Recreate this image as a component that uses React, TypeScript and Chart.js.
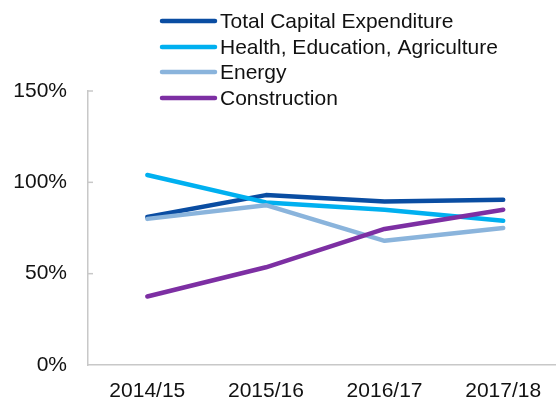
import React, { useEffect, useRef } from "react";
import { Chart, registerables } from "chart.js";

Chart.register(...registerables);

const categories = ["2014/15", "2015/16", "2016/17", "2017/18"];
const seriesNames = [
  "Total Capital Expenditure",
  "Health, Education, Agriculture",
  "Energy",
  "Construction",
];
const totalCapex = [81, 93, 89.5, 90.5];
const healthEduAgri = [104, 89, 85, 79];
const energy = [80, 87.5, 68, 75];
const construction = [37.5, 53.5, 74.5, 85];
const seriesColors = ["#0A4DA2", "#00B0F0", "#8AB4DC", "#7D2FA3"];
const yTicks = [0, 50, 100, 150];

const FONT = "'Liberation Sans', Arial, sans-serif";
const FONT_SIZE = 21;

const legendPlugin = {
  id: "vlegend",
  afterDraw(chart: any) {
    const ctx = chart.ctx;
    ctx.save();
    const x0 = 162;
    const x1 = 215;
    const rows = [21, 47, 72, 98];
    chart.data.datasets.forEach((ds: any, i: number) => {
      const y = rows[i];
      ctx.strokeStyle = ds.borderColor;
      ctx.lineWidth = 4.5;
      ctx.lineCap = "round";
      ctx.beginPath();
      ctx.moveTo(x0, y);
      ctx.lineTo(x1, y);
      ctx.stroke();
      ctx.fillStyle = "#111";
      ctx.font = `${FONT_SIZE}px ${FONT}`;
      ctx.textBaseline = "middle";
      ctx.textAlign = "left";
      ctx.fillText(ds.label, 220, y + 1);
    });
    ctx.restore();
  },
};

const yTickMarks = {
  id: "yTickMarks",
  afterDraw(chart: any) {
    const ctx = chart.ctx;
    const y = chart.scales.y;
    const left = chart.chartArea.left;
    ctx.save();
    ctx.strokeStyle = "#C8C8C8";
    ctx.lineWidth = 1.5;
    yTicks.forEach((v) => {
      if (v === 0) return;
      const py = y.getPixelForValue(v);
      ctx.beginPath();
      ctx.moveTo(left, py);
      ctx.lineTo(left + 5, py);
      ctx.stroke();
    });
    ctx.restore();
  },
};

export default function App() {
  const ref = useRef<HTMLCanvasElement>(null);
  useEffect(() => {
    if (!ref.current) return;
    const all = [totalCapex, healthEduAgri, energy, construction];
    const chart = new Chart(ref.current, {
      type: "line",
      data: {
        datasets: all.map((vals, i) => ({
          label: seriesNames[i],
          data: vals.map((v, j) => ({ x: j, y: v })),
          borderColor: seriesColors[i],
          backgroundColor: seriesColors[i],
          borderWidth: 4.5,
          borderCapStyle: "round",
          borderJoinStyle: "round",
          pointRadius: 0,
          tension: 0,
          order: all.length - i,
        })),
      },
      options: {
        animation: false,
        responsive: false,
        maintainAspectRatio: false,
        layout: { padding: { top: 91, right: 0, left: 0, bottom: 0 } },
        plugins: { legend: { display: false }, tooltip: { enabled: false } },
        scales: {
          x: {
            type: "linear",
            min: -0.5,
            max: 3.445,
            grid: { display: false, drawTicks: false },
            border: { display: true, color: "#C8C8C8", width: 1.5 },
            afterBuildTicks: (axis: any) => {
              axis.ticks = categories.map((_, i) => ({ value: i }));
            },
            afterFit: (axis: any) => {
              axis.height = 37;
            },
            ticks: {
              autoSkip: false,
              maxRotation: 0,
              padding: 14,
              color: "#111",
              font: { family: FONT, size: FONT_SIZE },
              callback: (v: any) => categories[Math.round(Number(v))] ?? "",
            },
          },
          y: {
            min: 0,
            max: 150,
            grid: { display: false, drawTicks: false },
            border: { display: true, color: "#C8C8C8", width: 1.5 },
            afterBuildTicks: (axis: any) => {
              axis.ticks = yTicks.map((v) => ({ value: v }));
            },
            afterFit: (axis: any) => {
              axis.width = 88;
            },
            ticks: {
              padding: 21,
              color: "#111",
              font: { family: FONT, size: FONT_SIZE },
              callback: (v: any) => `${v}%`,
            },
          },
        },
      },
      plugins: [legendPlugin, yTickMarks],
    } as any);
    return () => chart.destroy();
  }, []);
  return (
    <div style={{ position: "fixed", left: 0, top: 0, width: 556, height: 402, background: "#fff" }}>
      <canvas ref={ref} width={556} height={402} style={{ display: "block" }} />
    </div>
  );
}
